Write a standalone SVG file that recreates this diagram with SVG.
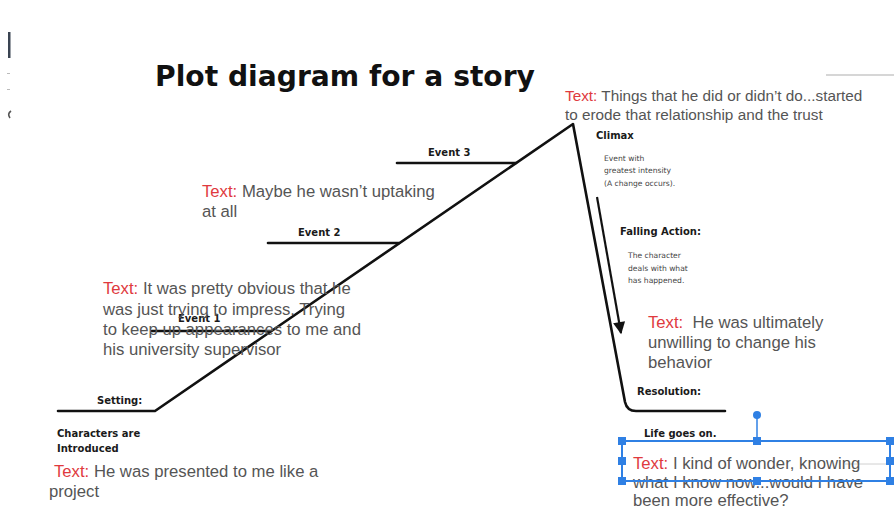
<svg xmlns="http://www.w3.org/2000/svg" width="894" height="510" viewBox="0 0 894 510">
<style>
.bg{fill:#ffffff}
.plot{fill:none;stroke:#111;stroke-width:2.6;stroke-linejoin:round;stroke-linecap:round}
.title{font-family:"DejaVu Sans",Verdana,sans-serif;font-weight:bold;font-size:28px;fill:#111}
.lbl{font-family:"DejaVu Sans",Verdana,sans-serif;font-weight:bold;font-size:10px;fill:#1a1a1a}
.tiny{font-family:"DejaVu Sans",Verdana,sans-serif;font-size:7.6px;fill:#444}
.note{font-family:"Liberation Sans",Arial,sans-serif;font-size:16.7px;fill:#555}
.note2{font-family:"Liberation Sans",Arial,sans-serif;font-size:15.3px;fill:#555}
.red{fill:#e03a3e}
.sel{fill:none;stroke:#2f80e4;stroke-width:2}
.hdl{fill:#2f80e4}
</style>
<defs>
<marker id="arr" viewBox="0 0 10 10" refX="9" refY="5" markerWidth="6" markerHeight="5.5" orient="auto">
<path d="M0,0 L10,5 L0,10 z" fill="#111"/>
</marker>
</defs>
<rect class="bg" x="0" y="0" width="894" height="510"/>

<!-- left edge artifacts -->
<rect x="8" y="32" width="2.5" height="26" fill="#3a4452"/>
<rect x="7" y="73" width="3" height="1" fill="#bbb"/>
<rect x="7" y="89" width="3" height="1" fill="#bbb"/>
<path d="M11,111 Q7,114 10,118" fill="none" stroke="#555" stroke-width="1.6"/>
<line x1="826" y1="75" x2="894" y2="75" stroke="#c8c8c8" stroke-width="1.5"/>
<line x1="845" y1="464" x2="890" y2="464" stroke="#d0d0d0" stroke-width="1"/>

<text id="title" class="title" x="155" y="86" textLength="380" lengthAdjust="spacingAndGlyphs">Plot diagram for a story</text>

<g id="connectors">
<path class="plot" d="M58,411 L155,411 L573,124 L625,402 Q627,411 636,411 L725,411"/>
<line class="plot" x1="397" y1="163" x2="516" y2="163"/>
<line class="plot" x1="268" y1="243" x2="399" y2="243"/>
<line class="plot" x1="152" y1="331" x2="271" y2="331"/>
<line x1="597" y1="197" x2="621" y2="333" stroke="#111" stroke-width="2.2" marker-end="url(#arr)"/>
</g>

<g id="setting">
<text class="lbl" x="97" y="404">Setting:</text>
<text class="lbl" x="57" y="437">Characters are</text>
<text class="lbl" x="57" y="452">Introduced</text>
</g>
<g id="event1"><text class="lbl" x="178" y="322">Event 1</text></g>
<g id="event2"><text class="lbl" x="298" y="236">Event 2</text></g>
<g id="event3"><text class="lbl" x="428" y="156">Event 3</text></g>
<g id="climax">
<text class="lbl" x="596" y="139">Climax</text>
<text class="tiny" x="604" y="161">Event with</text>
<text class="tiny" x="604" y="173">greatest intensity</text>
<text class="tiny" x="604" y="186">(A change occurs).</text>
</g>
<g id="falling">
<text class="lbl" x="620" y="235">Falling Action:</text>
<text class="tiny" x="628" y="258">The character</text>
<text class="tiny" x="628" y="271">deals with what</text>
<text class="tiny" x="628" y="283">has happened.</text>
</g>
<g id="resolution">
<text class="lbl" x="637" y="395">Resolution:</text>
<text class="lbl" x="644" y="437">Life goes on.</text>
</g>

<g id="note-climax">
<text class="note2" x="565" y="101"><tspan class="red">Text:</tspan> Things that he did or didn’t do...started</text>
<text class="note2" x="565" y="120">to erode that relationship and the trust</text>
</g>
<g id="note-event2">
<text class="note" x="202" y="197"><tspan class="red">Text:</tspan> Maybe he wasn’t uptaking</text>
<text class="note" x="202" y="217">at all</text>
</g>
<g id="note-event1">
<text class="note" x="103" y="294"><tspan class="red">Text:</tspan> It was pretty obvious that he</text>
<text class="note" x="103" y="315">was just trying to impress.  Trying</text>
<text class="note" x="103" y="335">to keep up appearances to me and</text>
<text class="note" x="103" y="355">his university supervisor</text>
</g>
<g id="note-setting">
<text class="note" x="54" y="477"><tspan class="red">Text:</tspan> He was presented to me like a</text>
<text class="note" x="49" y="497">project</text>
</g>
<g id="note-falling">
<text class="note" x="648" y="328" xml:space="preserve"><tspan class="red">Text:</tspan>  He was ultimately</text>
<text class="note" x="648" y="348">unwilling to change his</text>
<text class="note" x="648" y="368">behavior</text>
</g>
<g id="note-resolution">
<text class="note" x="633" y="469"><tspan class="red">Text:</tspan> I kind of wonder, knowing</text>
<text class="note" x="633" y="488">what I know now...would I have</text>
<text class="note" x="633" y="506">been more effective?</text>
</g>

<g id="selection">
<rect class="sel" x="622" y="441" width="268" height="40"/>
<line x1="757" y1="441" x2="757" y2="416" stroke="#2f80e4" stroke-width="1.5"/>
<circle class="hdl" cx="757" cy="415" r="4"/>
<rect class="hdl" x="618" y="437" width="8" height="8"/>
<rect class="hdl" x="753" y="437" width="8" height="8"/>
<rect class="hdl" x="886" y="437" width="8" height="8"/>
<rect class="hdl" x="618" y="457" width="8" height="8"/>
<rect class="hdl" x="886" y="457" width="8" height="8"/>
<rect class="hdl" x="618" y="477" width="8" height="8"/>
<rect class="hdl" x="753" y="477" width="8" height="8"/>
<rect class="hdl" x="886" y="477" width="8" height="8"/>
</g>
</svg>
